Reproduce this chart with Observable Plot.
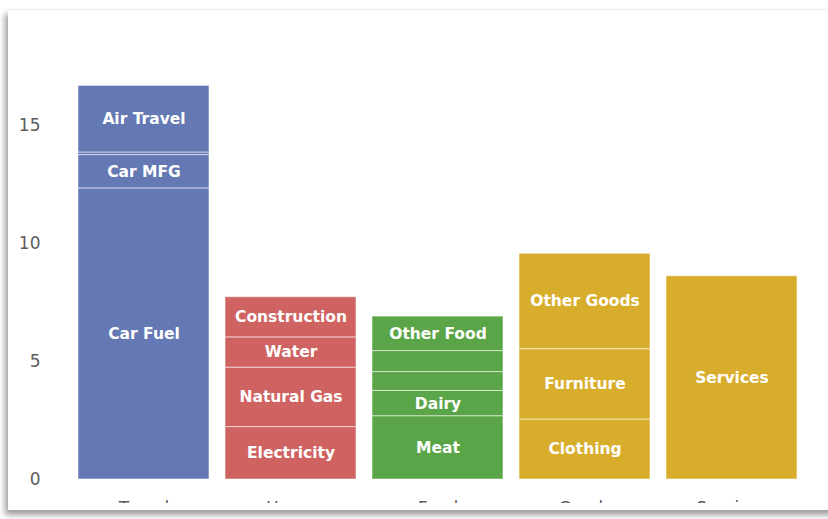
<!DOCTYPE html>
<html><head><meta charset="utf-8">
<script src="https://cdn.jsdelivr.net/npm/d3@7"></script>
<script src="https://cdn.jsdelivr.net/npm/@observablehq/plot@0.6"></script>
<style>
body{margin:0;background:#fff;width:828px;height:519px;overflow:hidden;position:relative;font-family:"DejaVu Sans",sans-serif}
#card{position:absolute;left:8px;top:9px;width:840px;height:500px;background:#fff;box-shadow:-3px 5px 6px rgba(0,0,0,0.38);border-top:1px solid #eee}
#clip{position:absolute;left:0;top:0;width:828px;height:503px;overflow:hidden}
</style></head><body>
<div id="card"></div>
<div id="clip"></div>
<script>
const categories = ["Travel", "Home", "Food", "Goods", "Services"];
const categoryColors = ["#6479b4", "#cf6361", "#5aa547", "#d8ad2b", "#d8ad2b"];

const travelNames = ["Car Fuel", "Car MFG", "", "Air Travel"];
const travelValues = [12.33, 1.41, 0.11, 2.82];
const homeNames = ["Electricity", "Natural Gas", "Water", "Construction"];
const homeValues = [2.22, 2.52, 1.28, 1.70];
const foodNames = ["Meat", "Dairy", "", "", "Other Food"];
const foodValues = [2.68, 1.07, 0.80, 0.89, 1.46];
const goodsNames = ["Clothing", "Furniture", "Other Goods"];
const goodsValues = [2.54, 2.98, 4.04];
const servicesNames = ["Services"];
const servicesValues = [8.61];

const yTicks = [0, 5, 10, 15];

const groups = [
  [travelNames, travelValues],
  [homeNames, homeValues],
  [foodNames, foodValues],
  [goodsNames, goodsValues],
  [servicesNames, servicesValues]
];
const rows = [];
groups.forEach(([names, values], i) => {
  names.forEach((n, j) => rows.push({category: categories[i], name: n, value: values[j]}));
});

const chart = Plot.plot({
  width: 828,
  height: 519,
  marginLeft: 77,
  marginRight: 31,
  marginTop: 54,
  marginBottom: 40,
  style: {fontFamily: "DejaVu Sans, sans-serif", fontSize: "17px", color: "#5c5c5c", background: "transparent", overflow: "visible"},
  x: {domain: categories, paddingInner: 0.11, paddingOuter: 0, tickSize: 0, tickPadding: 22, label: null},
  y: {domain: [0, 18], ticks: yTicks, tickSize: 0, tickPadding: 37, label: null},
  color: {domain: categories, range: categoryColors},
  marks: [
    Plot.barY(rows, Plot.stackY({x: "category", y: "value", fill: "category", stroke: "white", strokeOpacity: 0.55, strokeWidth: 1, order: null})),
    Plot.text(rows, Plot.stackY({x: "category", y: "value", order: null, text: d => d.value >= 1 ? d.name : "", fill: "white", fontSize: 15.5, fontWeight: "bold"}))
  ]
});
document.getElementById("clip").appendChild(chart);
</script>
</body></html>
